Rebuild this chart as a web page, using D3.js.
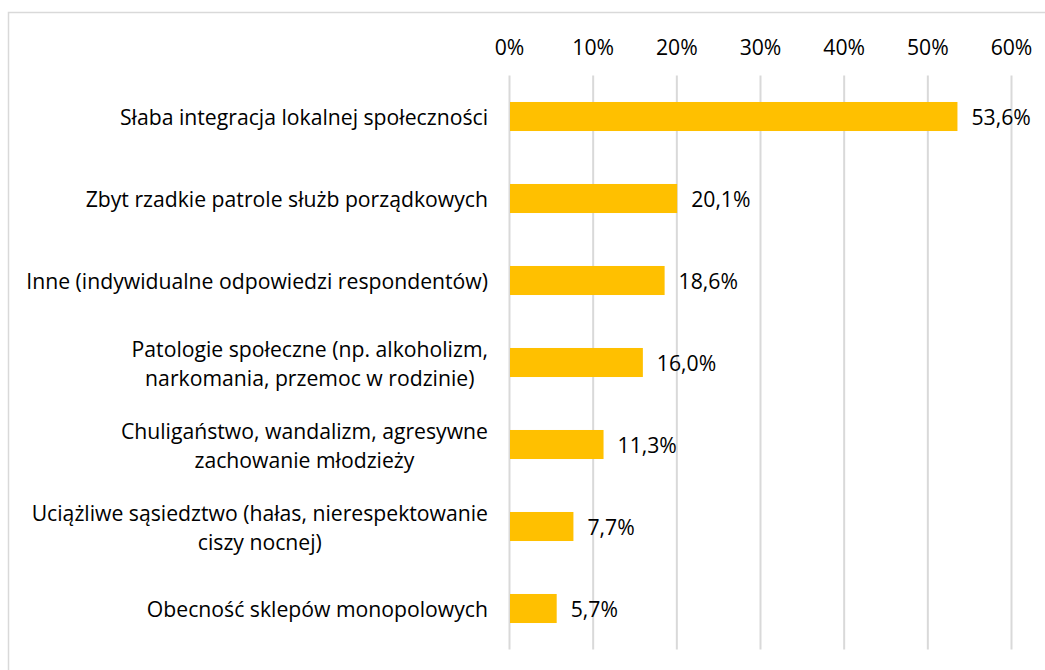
<!DOCTYPE html>
<html>
<head>
<meta charset="utf-8">
<script src="https://cdn.jsdelivr.net/npm/d3@7"></script>
<style>
  html, body { margin: 0; padding: 0; background: #fff; }
  svg { display: block; }
  text { font-family: "Open Sans", sans-serif; fill: #000; }
</style>
</head>
<body>
<svg id="chart" width="1045" height="670"></svg>
<script>
const categories = [
  "Słaba integracja lokalnej społeczności",
  "Zbyt rzadkie patrole służb porządkowych",
  "Inne (indywidualne odpowiedzi respondentów)",
  "Patologie społeczne (np. alkoholizm,\nnarkomania, przemoc w rodzinie)",
  "Chuligaństwo, wandalizm, agresywne\nzachowanie młodzieży",
  "Uciążliwe sąsiedztwo (hałas, nierespektowanie\nciszy nocnej)",
  "Obecność sklepów monopolowych"
];
const values = [53.6, 20.1, 18.6, 16.0, 11.3, 7.7, 5.7];
const tickValues = [0, 10, 20, 30, 40, 50, 60];

const fontSize = 21.2;
const svg = d3.select("#chart");

// frame
svg.append("rect")
  .attr("x", 8.5).attr("y", 12.5)
  .attr("width", 1100).attr("height", 700)
  .attr("fill", "none").attr("stroke", "#d9d9d9").attr("stroke-width", 1.5);

const x = d3.scaleLinear().domain([0, 60]).range([509, 1011]);
const y = d3.scaleBand().domain(categories).range([75.5, 649.5])
  .paddingInner(0.646).paddingOuter(0.323);

// axis + gridlines
const axis = svg.append("g")
  .attr("transform", `translate(0,${75.5})`)
  .call(d3.axisTop(x).tickValues(tickValues)
    .tickSizeInner(-(649.5 - 75.5)).tickSizeOuter(0)
    .tickPadding(21).tickFormat(d => d + "%"));
axis.select(".domain").remove();
axis.selectAll(".tick line").attr("stroke", "#d9d9d9").attr("stroke-width", 2);
axis.selectAll(".tick text").attr("font-size", fontSize)
  .attr("font-family", "'Open Sans', sans-serif").attr("fill", "#000");

// bars
svg.append("g").selectAll("rect")
  .data(values)
  .join("rect")
  .attr("x", x(0) + 1)
  .attr("y", (d, i) => y(categories[i]))
  .attr("width", d => x(d) - x(0) - 1)
  .attr("height", y.bandwidth())
  .attr("fill", "#FFC000");

// value labels
svg.append("g").selectAll("text")
  .data(values)
  .join("text")
  .attr("x", d => x(d) + 14)
  .attr("y", (d, i) => y(categories[i]) + y.bandwidth() / 2)
  .attr("dominant-baseline", "central")
  .attr("font-size", fontSize)
  .text(d => d.toFixed(1).replace(".", ",") + "%");

// category labels
const labelRight = 488;
const lineH = 29;
const lg = svg.append("g");
categories.forEach(c => {
  const lines = c.split("\n");
  const cy = y(c) + y.bandwidth() / 2;
  const t = lg.append("text").attr("font-size", fontSize);
  const spans = lines.map((ln, j) =>
    t.append("tspan")
      .attr("y", cy + (j - (lines.length - 1) / 2) * lineH)
      .attr("dominant-baseline", "central")
      .text(ln));
  const widths = spans.map(s => s.node().getComputedTextLength());
  const maxW = Math.max(...widths);
  spans.forEach(s => s.attr("x", labelRight - maxW / 2).attr("text-anchor", "middle"));
});
</script>
</body>
</html>
